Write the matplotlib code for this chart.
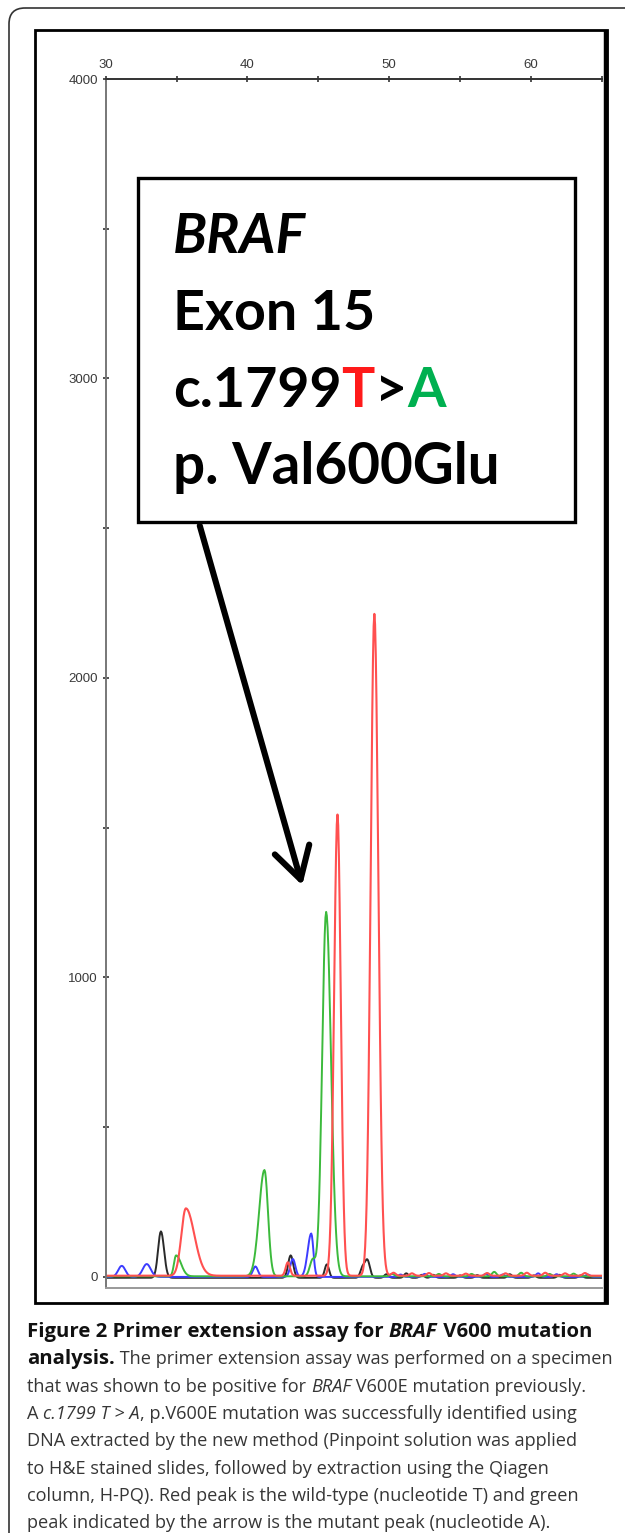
import numpy as np
import matplotlib
matplotlib.use("Agg")
import matplotlib.pyplot as plt
from matplotlib.patches import Rectangle, FancyBboxPatch, FancyArrowPatch

# ---- data (centre, height, left width, right width) ----
red_x = [35.66, 42.85, 46.35, 48.95, 50.3, 51.6, 52.8, 54.0, 55.4, 56.9, 58.2, 59.7, 61.0, 62.4, 63.8]
red_h = [225, 45, 1540, 2210, 10, 8, 9, 8, 7, 9, 8, 10, 10, 8, 9]
red_sl = [0.32, 0.15, 0.24, 0.26] + [0.15] * 11
red_sr = [0.60, 0.15, 0.23, 0.28] + [0.15] * 11

green_x = [34.97, 41.2, 44.6, 45.55, 50.2, 53.5, 55.8, 57.4, 59.3, 61.3, 63.0]
green_h = [70, 355, 55, 1217, 8, 8, 8, 15, 12, 8, 9]
green_sl = [0.15, 0.38, 0.20, 0.28] + [0.15] * 7
green_sr = [0.35, 0.25, 0.20, 0.34] + [0.15] * 7

blue_x = [31.14, 32.9, 40.56, 43.2, 44.5, 50.8, 52.5, 54.5, 56.8, 58.0, 60.5, 61.8, 64.0]
blue_h = [37, 43, 35, 60, 145, 8, 10, 9, 10, 8, 12, 9, 8]
blue_sl = [0.25, 0.28, 0.18, 0.18, 0.25] + [0.15] * 8
blue_sr = [0.25, 0.28, 0.18, 0.18, 0.15] + [0.15] * 8

black_x = [33.9, 43.05, 45.6, 48.1, 48.45, 49.8, 51.2, 52.3, 53.1, 55.0, 56.2, 58.5, 60.2, 62.0, 63.5]
black_h = [155, 75, 45, 30, 60, 12, 15, 10, 10, 8, 9, 12, 8, 10, 8]
black_sl = [0.20, 0.18, 0.15, 0.15, 0.18] + [0.15] * 10
black_sr = [0.22, 0.18, 0.15, 0.15, 0.18] + [0.15] * 10

x_ticks = [30, 40, 50, 60]
y_ticks = [0, 1000, 2000, 3000, 4000]


def trace(xs, cs, hs, sl, sr):
    y = np.zeros_like(xs)
    for c, h, a, b in zip(cs, hs, sl, sr):
        s = np.where(xs < c, a, b)
        y += h * np.exp(-0.5 * ((xs - c) / s) ** 2)
    return y


fig = plt.figure(figsize=(6.25, 15.33), dpi=100)

# chromatogram axes
ax = fig.add_axes([105.6 / 625, 1 - 1288 / 1533, (602 - 105.6) / 625, (1288 - 79) / 1533])
xs = np.arange(30, 65.001, 0.05)
ax.plot(xs, trace(xs, black_x, black_h, black_sl, black_sr) - 3, color='#2a2a2a', lw=1.4)
ax.plot(xs, trace(xs, blue_x, blue_h, blue_sl, blue_sr), color='#3c3cff', lw=1.4)
ax.plot(xs, trace(xs, green_x, green_h, green_sl, green_sr) + 2, color='#3cba3c', lw=1.4)
ax.plot(xs, trace(xs, red_x, red_h, red_sl, red_sr) + 4, color='#ff5050', lw=1.5)
ax.set_xlim(30, 65)
ax.set_ylim(-37, 4000)

ax.xaxis.tick_top()
ax.set_xticks(x_ticks)
ax.set_xticks([35, 45, 55, 65], minor=True)
ax.set_yticks(y_ticks)
ax.set_yticks([500, 1500, 2500, 3500], minor=True)
ax.tick_params(which='both', direction='inout', length=5, width=1.2, color='#333333',
               labelsize=9.5, labelcolor='#3a3a3a', pad=3)
for lab in ax.get_xticklabels() + ax.get_yticklabels():
    lab.set_family('Liberation Sans')
ax.spines['right'].set_visible(False)
ax.spines['top'].set_color('#333333')
ax.spines['left'].set_color('#777777')
ax.spines['bottom'].set_color('#999999')
for s in ['top', 'left', 'bottom']:
    ax.spines[s].set_linewidth(1.4)

# overlay in pixel coordinates for frames, box, arrow and caption
ov = fig.add_axes([0, 0, 1, 1], zorder=5)
ov.set_xlim(0, 625)
ov.set_ylim(1533, 0)
ov.axis('off')
ov.patch.set_alpha(0)

ov.add_patch(FancyBboxPatch((9, 8), 660, 1600, boxstyle='round,pad=0,rounding_size=16',
                            fill=False, ec='#333333', lw=1.2))
ov.add_patch(Rectangle((35, 30), 572, 1273, fill=False, ec='black', lw=2.0))
ov.plot([606, 606], [30, 1304], color='black', lw=3.2, solid_capstyle='butt')

ov.add_patch(Rectangle((138, 178), 437, 344, fc='white', ec='black', lw=2.4))

ov.add_patch(FancyArrowPatch((199, 523), (303, 888),
                             arrowstyle='->,head_length=0.4,head_width=0.23',
                             mutation_scale=56, lw=4.4, color='black',
                             capstyle='round', joinstyle='round'))

renderer = fig.canvas.get_renderer()


def width(s, **kw):
    t1 = ov.text(0, 0, '|' + s + '|', **kw)
    t2 = ov.text(0, 0, '||', **kw)
    w = t1.get_window_extent(renderer).width - t2.get_window_extent(renderer).width
    t1.remove()
    t2.remove()
    return w


def runs(x, y, parts, **kw):
    for s, props in parts:
        opts = dict(kw)
        opts.update(props)
        ov.text(x, y, s, va='baseline', ha='left', **opts)
        x += width(s, **opts)


# box text
box = dict(family='Lato', size=40, weight='bold', color='black')
ov.text(173, 253, 'BRAF', va='baseline', style='italic', **box)
ov.text(173, 330, 'Exon 15', va='baseline', **box)
runs(173, 407, [('c.1799', {}), ('T', {'color': '#ff1a1a'}), ('>', {}),
                ('A', {'color': '#00b050'})], **box)
ov.text(173, 484, 'p. Val600Glu', va='baseline', size=40.8, **{k: v for k, v in box.items() if k != 'size'})

# caption
B = {'weight': 'bold', 'color': '#111111', 'size': 14.7}
BI = {'weight': 'bold', 'style': 'italic', 'color': '#111111', 'size': 14.7}
R = {}
I = {'style': 'italic'}
cap = dict(family='Open Sans', size=13.1, color='#363636')
lines = [
    [('Figure 2 Primer extension assay for ', B), ('BRAF', BI), (' V600 mutation', B)],
    [('analysis.', B), (' The primer extension assay was performed on a specimen', R)],
    [('that was shown to be positive for ', R), ('BRAF', I), (' V600E mutation previously.', R)],
    [('A ', R), ('c.1799 T > A', I), (', p.V600E mutation was successfully identified using', R)],
    [('DNA extracted by the new method (Pinpoint solution was applied', R)],
    [('to H&E stained slides, followed by extraction using the Qiagen', R)],
    [('column, H-PQ). Red peak is the wild-type (nucleotide T) and green', R)],
    [('peak indicated by the arrow is the mutant peak (nucleotide A).', R)],
]
for i, parts in enumerate(lines):
    runs(27, 1337 + i * 27.3, parts, **cap)

fig.savefig('out.png', dpi=100)
